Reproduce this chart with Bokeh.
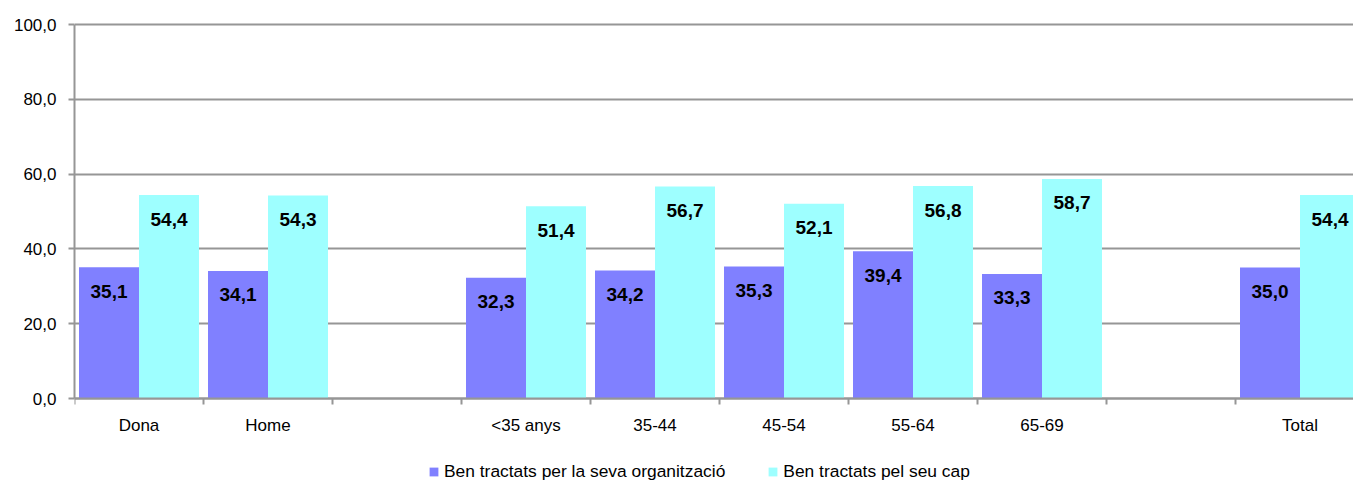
from bokeh.plotting import figure
from bokeh.models import ColumnDataSource, Range1d, FixedTicker, Legend, LegendItem
from bokeh.core.properties import value
from bokeh.embed import file_html
from bokeh.resources import INLINE

# ---- data ----
categories = ["Dona", "Home", "", "<35 anys", "35-44", "45-54", "55-64", "65-69", "", "Total"]
org = [35.1, 34.1, None, 32.3, 34.2, 35.3, 39.4, 33.3, None, 35.0]
cap = [54.4, 54.3, None, 51.4, 56.7, 52.1, 56.8, 58.7, None, 54.4]
series_names = ["Ben tractats per la seva organització", "Ben tractats pel seu cap"]
y_ticks = [0, 20, 40, 60, 80, 100]

# ---- style ----
PURPLE = "#8080FF"
CYAN = "#9EFFFF"
GRAY = "#969696"
FONT = "Liberation Sans"
LABEL_FONT = "Liberation Sans"

W, H = 1353, 482
left_b, top_b = 74, 20
slot_px = 129.0
frame_w = W - left_b
frame_h = H - top_b
zero_y = 398          # pixel row of value 0
px_per_unit = 3.74
bar_w = 60.0 / slot_px

p = figure(width=W, height=H, output_backend="svg", toolbar_location=None,
           x_range=Range1d(-0.5, -0.5 + frame_w / slot_px),
           y_range=Range1d(-(H - zero_y) / px_per_unit, (zero_y - top_b) / px_per_unit),
           min_border_left=left_b, min_border_right=0, min_border_top=top_b,
           min_border_bottom=0)
p.outline_line_color = None
p.background_fill_color = "white"


def make_source(vals, offset):
    xs, ys, lbls = [], [], []
    for i, v in enumerate(vals):
        if v is None:
            continue
        xs.append(i + offset)
        ys.append(v)
        lbls.append(f"{v:.1f}".replace(".", ","))
    return ColumnDataSource(dict(x=xs, y=ys, lbl=lbls))


src1 = make_source(org, -bar_w / 2)
src2 = make_source(cap, bar_w / 2)

r1 = p.vbar(x="x", top="y", bottom=0, width=bar_w, source=src1, fill_color=PURPLE, line_color=None)
r2 = p.vbar(x="x", top="y", bottom=0, width=bar_w, source=src2, fill_color=CYAN, line_color=None)

for src in (src1, src2):
    p.text(x="x", y="y", text="lbl", source=src, y_offset=24,
           text_align="center", text_baseline="alphabetic",
           text_font=value(LABEL_FONT), text_font_style="bold",
           text_font_size="19px", text_color="black")

# x axis (pinned at value 0 inside the frame)
xa = p.xaxis[0]
xa.fixed_location = 0
xa.ticker = FixedTicker(ticks=list(range(len(categories))),
                        minor_ticks=[k - 0.5 for k in range(len(categories) + 1)])
xa.major_label_overrides = {i: c for i, c in enumerate(categories)}
xa.major_tick_line_color = None
xa.minor_tick_line_color = GRAY
xa.minor_tick_line_width = 2
xa.minor_tick_out = 6
xa.minor_tick_in = 0
xa.axis_line_color = GRAY
xa.axis_line_width = 2
xa.major_label_standoff = 11
xa.major_label_text_font = FONT
xa.major_label_text_font_size = "17px"
xa.major_label_text_color = "black"

# y axis
ya = p.yaxis[0]
ya.ticker = FixedTicker(ticks=y_ticks)
ya.bounds = (y_ticks[0], y_ticks[-1])
ya.major_label_overrides = {t: f"{t:.1f}".replace(".", ",") for t in y_ticks}
ya.major_tick_line_color = GRAY
ya.major_tick_line_width = 2
ya.major_tick_out = 6
ya.major_tick_in = 0
ya.minor_tick_line_color = None
ya.axis_line_color = GRAY
ya.axis_line_width = 2
ya.major_label_standoff = 12
ya.major_label_text_font = FONT
ya.major_label_text_font_size = "17px"
ya.major_label_text_color = "black"

p.xgrid.visible = False
p.ygrid.ticker = FixedTicker(ticks=y_ticks)
p.ygrid.grid_line_color = GRAY
p.ygrid.grid_line_width = 2

legend = Legend(items=[LegendItem(label=series_names[0], renderers=[r1]),
                       LegendItem(label=series_names[1], renderers=[r2])],
                orientation="horizontal", location=(354, 0),
                padding=0, margin=0, spacing=42, glyph_width=11, glyph_height=11,
                label_standoff=5, border_line_color=None, background_fill_alpha=0,
                label_text_font=FONT, label_text_font_size="17.4px", label_text_color="black")
p.add_layout(legend)

open("out.html", "w").write(file_html(p, INLINE))
